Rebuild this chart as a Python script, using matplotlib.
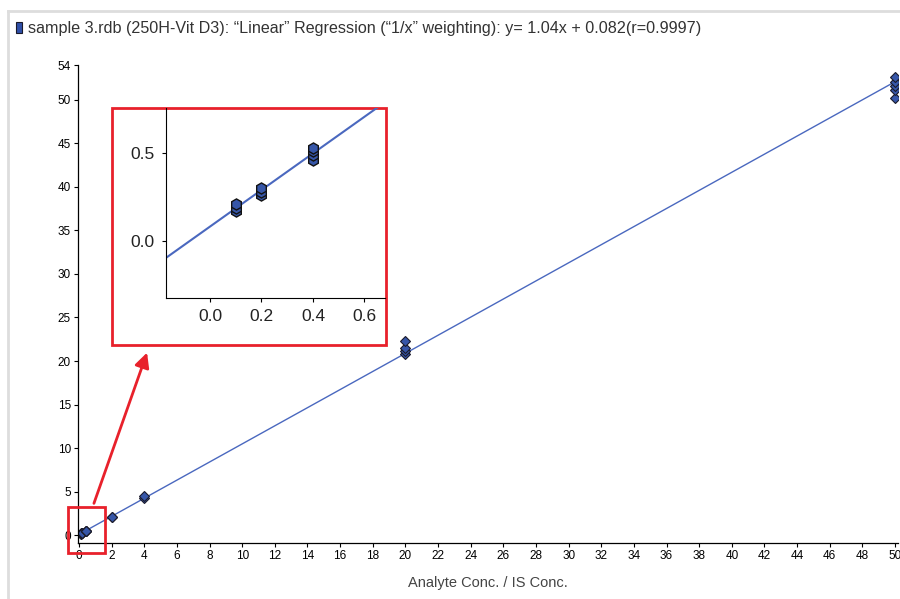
import numpy as np
import matplotlib
matplotlib.use("Agg")
from matplotlib import pyplot as plt
from matplotlib.patches import Rectangle, FancyArrowPatch

# calibration points (analyte conc / IS conc vs area ratio)
conc = [0.1, 0.1, 0.1, 0.2, 0.2, 0.2, 0.4, 0.4, 0.4, 0.4,
        2, 2, 4, 4, 20, 20, 20, 20, 50, 50, 50, 50, 50]
ratio = [0.17, 0.19, 0.21, 0.26, 0.28, 0.30, 0.46, 0.49, 0.51, 0.53,
         2.05, 2.1, 4.3, 4.5, 20.8, 21.1, 21.5, 22.3, 50.2, 51.1, 51.6, 52.0, 52.6]
slope = 1.04
intercept = 0.082
title = u"sample 3.rdb (250H-Vit D3): \u201cLinear\u201d Regression (\u201c1/x\u201d weighting): y= 1.04x + 0.082(r=0.9997)"
xticks_main = list(range(0, 51, 2))
yticks_main = [0, 5, 10, 15, 20, 25, 30, 35, 40, 45, 50, 54]
xticks_inset = [0.0, 0.2, 0.4, 0.6]
yticks_inset = [0.0, 0.5]

W, H = 900, 599
LINE = '#4a68bf'
DOT = '#3656a8'
RED = '#e8212b'

plt.rcParams['font.family'] = ['Liberation Sans', 'DejaVu Sans']

fig = plt.figure(figsize=(W / 100, H / 100), dpi=100)

def fx(px):
    return px / W

def fy(py):
    return 1 - py / H

# light grey frame around the panel
fig.add_artist(plt.Line2D([fx(8), fx(900)], [fy(11), fy(11)], color='#dddddd', lw=2))
fig.add_artist(plt.Line2D([fx(8), fx(8)], [fy(11), fy(599)], color='#dddddd', lw=2))

# main axes
ax = fig.add_axes([fx(78), fy(543), fx(898 - 78), (543 - 65) / H])
xs = np.array([-0.06, 50.18])
ax.plot(xs, slope * xs + intercept, color=LINE, lw=1)
ax.plot(conc, ratio, 'D', ms=5.5, mfc=DOT, mec='#1a1a2a', mew=0.8)
ax.set_xlim(-0.06, 50.18)
ax.set_ylim(-0.9, 54)
ax.set_xticks(xticks_main)
ax.set_yticks(yticks_main)
ax.tick_params(labelsize=8.5, length=3, width=0.8, direction='out', pad=2)
for s in ['top', 'right']:
    ax.spines[s].set_visible(False)
ax.spines['left'].set_linewidth(0.9)
ax.spines['bottom'].set_linewidth(0.9)

fig.text(fx(488), fy(583), 'Analyte Conc. / IS Conc.', ha='center', va='center',
         fontsize=10.5, color='#444444')

# title with legend swatch
fig.add_artist(Rectangle((fx(16), fy(33)), fx(6), 11 / H, transform=fig.transFigure,
                         facecolor='#2f4fa8', edgecolor='#1a1a2a', lw=0.8))
fig.text(fx(28), fy(28), title, ha='left', va='center', fontsize=11.6, color='#333333')

# small red box near origin
fig.add_artist(Rectangle((fx(68), fy(553)), fx(105 - 68), (553 - 507) / H,
                         transform=fig.transFigure, fill=False, edgecolor=RED, lw=2))
# arrow to zoom box
fig.add_artist(FancyArrowPatch((fx(93), fy(506)), (fx(148), fy(350)),
                               transform=fig.transFigure, arrowstyle='-|>',
                               mutation_scale=22, color=RED, lw=2))

# inset
fig.add_artist(Rectangle((fx(112), fy(345)), fx(386 - 112), (345 - 108) / H,
                         transform=fig.transFigure, facecolor='white', edgecolor=RED,
                         lw=2, zorder=2))
ins = fig.add_axes([fx(166), fy(298), fx(385 - 166), (298 - 108) / H], zorder=3)
ins.patch.set_alpha(0)
xi = np.array([-0.171, 0.68])
ins.plot(xi, slope * xi + intercept, color=LINE, lw=1.5)
ins.plot(conc, ratio, 'h', ms=8, mfc=DOT, mec='#111111', mew=1.0)
ins.set_xlim(-0.171, 0.68)
ins.set_ylim(-0.324, 0.756)
ins.set_xticks(xticks_inset)
ins.set_yticks(yticks_inset)
ins.set_xticklabels(['0.0', '0.2', '0.4', '0.6'])
ins.set_yticklabels(['0.0', '0.5'])
ins.tick_params(labelsize=12.5, length=3, width=0.8, direction='out', pad=5,
                labelcolor='#222222')
for s in ['top', 'right']:
    ins.spines[s].set_visible(False)

fig.savefig('out.png', dpi=100)
